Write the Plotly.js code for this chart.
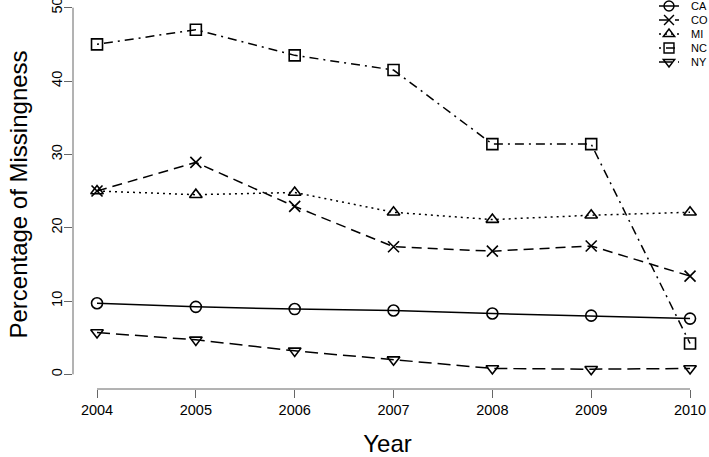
<!DOCTYPE html>
<html>
<head>
<meta charset="utf-8">
<script src="https://cdn.plot.ly/plotly-3.0.1.min.js"></script>
<style>html,body{margin:0;padding:0;background:#fff;}#chart{width:709px;height:457px;}</style>
</head>
<body>
<div id="chart"></div>
<script>
const years = [2004, 2005, 2006, 2007, 2008, 2009, 2010];
const CA = [9.7, 9.2, 8.9, 8.7, 8.3, 8.0, 7.6];
const CO = [25.0, 28.9, 22.9, 17.4, 16.8, 17.5, 13.4];
const MI = [25.0, 24.5, 24.8, 22.1, 21.1, 21.7, 22.1];
const NC = [45.0, 47.0, 43.5, 41.5, 31.4, 31.4, 4.2];
const NY = [5.7, 4.7, 3.2, 2.0, 0.8, 0.7, 0.8];
const yTicks = [0, 10, 20, 30, 40, 50];

const seriesNames = ['CA', 'CO', 'MI', 'NC', 'NY'];
const seriesData = [CA, CO, MI, NC, NY];
const symbols = ['circle-open', 'x-thin-open', 'triangle-up-open', 'square-open', 'triangle-down-open'];
const dashes = ['solid', '10px,6px', '2px,4px', '2px,5px,9px,5px', '13px,6px'];

const traces = seriesNames.map((n, i) => ({
  x: years, y: seriesData[i], name: n, type: 'scatter', mode: 'lines+markers',
  line: {color: '#000', width: 1.5, dash: dashes[i]},
  marker: {symbol: symbols[i], size: 11, color: '#000', line: {color: '#000', width: 1.6}}
}));

const fam = 'Liberation Sans, Arial, sans-serif';
const layout = {
  width: 709, height: 457,
  margin: {l: 73, r: 7, t: 0, b: 68},
  paper_bgcolor: '#fff', plot_bgcolor: '#fff',
  font: {family: fam, color: '#000'},
  showlegend: true,
  legend: {x: 0.87, y: 1.0, xanchor: 'left', yanchor: 'top', font: {size: 11, family: fam, color: '#000'}, bgcolor: 'rgba(0,0,0,0)', itemwidth: 30},
  xaxis: {
    range: [2003.757, 2010.121], tickvals: years, ticktext: years.map(String),
    ticks: 'outside', ticklen: 8, tickwidth: 1, tickcolor: '#666',
    showgrid: false, zeroline: false, showline: false, ticklabeloverflow: 'allow',
    tickfont: {size: 14.5, family: fam, color: '#000'},
    title: {text: 'Year', font: {size: 24, family: fam, color: '#000'}, standoff: 24}
  },
  yaxis: {
    range: [-2.0, 51.05], tickvals: yTicks, ticktext: yTicks.map(String),
    ticks: 'outside', ticklen: 8, tickwidth: 1, tickcolor: '#666', tickangle: -90,
    ticklabelstandoff: -4,
    showgrid: false, zeroline: false, showline: false, ticklabeloverflow: 'allow',
    tickfont: {size: 14.5, family: fam, color: '#000'},
    title: {text: 'Percentage of Missingness', font: {size: 24, family: fam, color: '#000'}, standoff: 14}
  },
  shapes: [
    {type: 'line', xref: 'paper', yref: 'y', x0: 0, x1: 0, y0: yTicks[0], y1: yTicks[yTicks.length - 1], line: {color: '#666', width: 1}},
    {type: 'line', xref: 'x', yref: 'paper', x0: years[0], x1: years[years.length - 1], y0: 0, y1: 0, line: {color: '#666', width: 1}}
  ]
};
Plotly.newPlot('chart', traces, layout, {displayModeBar: false, staticPlot: true}).then(gd => {
  // tighten legend like R's compact legend box
  const leg = gd.querySelector('g.legend');
  if (leg) {
    leg.querySelectorAll('[clip-path]').forEach(el => el.removeAttribute('clip-path'));
    leg.setAttribute('transform', 'translate(649,6)');
    const items = leg.querySelectorAll('g.traces');
    items.forEach((it, i) => {
      it.setAttribute('transform', 'translate(0,' + (14 * i) + ')');
      it.querySelectorAll('g.legendlines path').forEach(p => p.setAttribute('d', 'M10,0h20'));
      it.querySelectorAll('g.legendpoints').forEach(p => p.setAttribute('transform', 'translate(20,0) scale(0.9) translate(-20,0)'));
      it.querySelectorAll('text.legendtext').forEach(t => t.setAttribute('x', '42'));
    });
  }
});
</script>
</body>
</html>
